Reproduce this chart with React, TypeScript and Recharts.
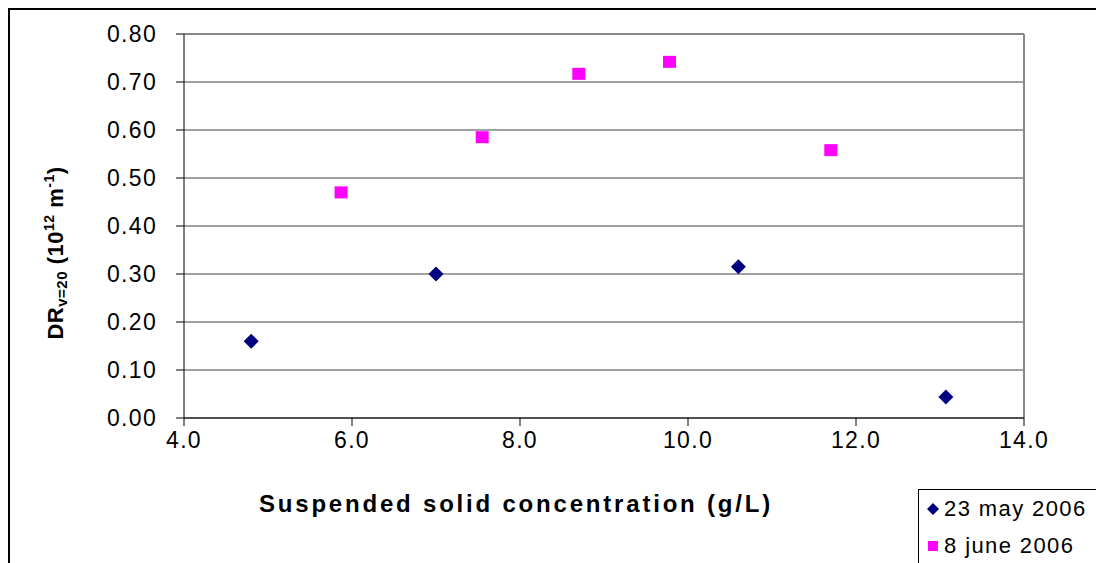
import React from "react";
import {
  ScatterChart,
  Scatter,
  XAxis,
  YAxis,
  CartesianGrid,
  ReferenceLine,
  Legend,
} from "recharts";

// suspended solid concentration (g/L) vs DR
const may23X = [4.8, 7.0, 10.6, 13.07];
const may23Y = [0.16, 0.30, 0.315, 0.044];
const june8X = [5.87, 7.55, 8.7, 9.78, 11.7];
const june8Y = [0.47, 0.585, 0.717, 0.742, 0.558];

const xTicks = [4, 6, 8, 10, 12, 14];
const yTicks = [0, 0.1, 0.2, 0.3, 0.4, 0.5, 0.6, 0.7, 0.8];

const seriesNames = ["23 may 2006", "8 june 2006"];

const may23 = may23X.map((x, i) => ({ x, y: may23Y[i] }));
const june8 = june8X.map((x, i) => ({ x, y: june8Y[i] }));

const FONT = "Arial, 'Liberation Sans', sans-serif";
const NAVY = "#000080";
const PINK = "#FF00FF";

const Diamond = (props: any) => {
  const { cx, cy } = props;
  const r = 7.5;
  return (
    <polygon
      points={`${cx},${cy - r} ${cx + r},${cy} ${cx},${cy + r} ${cx - r},${cy}`}
      fill={NAVY}
    />
  );
};

const Square = (props: any) => {
  const { cx, cy } = props;
  return <rect x={cx - 6.5} y={cy - 6} width={13} height={12} fill={PINK} />;
};

const YTitle = (props: any) => {
  const vb = props.viewBox;
  const cx = vb.x - 29;
  const cy = vb.y + vb.height / 2 + 27;
  return (
    <text
      x={cx}
      y={cy + 8}
      transform={`rotate(-90, ${cx}, ${cy})`}
      textAnchor="middle"
      fontFamily={FONT}
      fontWeight="bold"
      fontSize={22}
      letterSpacing={0.5}
      fill="#000"
    >
      <tspan>DR</tspan>
      <tspan fontSize={15} dy={4}>v=20</tspan>
      <tspan dy={-4}> (10</tspan>
      <tspan fontSize={14} dy={-9}>12</tspan>
      <tspan dy={9}> m</tspan>
      <tspan fontSize={14} dy={-9}>-1</tspan>
      <tspan dy={9}>)</tspan>
    </text>
  );
};

const XTitle = (props: any) => {
  const vb = props.viewBox;
  const cx = vb.x + vb.width / 2 - 88;
  return (
    <text
      x={cx}
      y={vb.y + 85}
      textAnchor="middle"
      dominantBaseline="central"
      fontFamily={FONT}
      fontWeight="bold"
      fontSize={24}
      letterSpacing={2.8}
      fill="#000"
    >
      Suspended solid concentration (g/L)
    </text>
  );
};

const renderLegend = () => (
  <div
    style={{
      border: "1px solid #000",
      width: 200,
      height: 100,
      boxSizing: "border-box",
      fontFamily: FONT,
      fontSize: 22,
      letterSpacing: 1.4,
      background: "#fff",
    }}
  >
    {seriesNames.map((name, i) => (
      <div
        key={name}
        style={{ display: "flex", alignItems: "center", height: 37 }}
      >
        <svg width={24} height={20} style={{ flex: "none" }}>
          {i === 0 ? (
            <polygon points="14,4 20,10 14,16 8,10" fill={NAVY} />
          ) : (
            <rect x={9} y={5} width={10} height={10} fill={PINK} />
          )}
        </svg>
        <span style={{ marginLeft: 1 }}>{name}</span>
      </div>
    ))}
  </div>
);

export default function App() {
  return (
    <div
      style={{
        position: "absolute",
        left: 8,
        top: 8,
        width: 1088,
        height: 555,
        borderTop: "2px solid #000",
        borderLeft: "2px solid #000",
        boxSizing: "border-box",
        overflow: "hidden",
        background: "#fff",
      }}
    >
      <ScatterChart
        width={1086}
        height={553}
        margin={{ top: 24, right: 72, left: 74, bottom: 105 }}
      >
        <CartesianGrid vertical={false} stroke="#444" strokeWidth={1} />
        <XAxis
          type="number"
          dataKey="x"
          domain={[4, 14]}
          ticks={xTicks}
          tickFormatter={(v: number) => v.toFixed(1)}
          height={40}
          stroke="#000"
          tickSize={8}
          tickMargin={6}
          tick={{ fontFamily: FONT, fontSize: 23, fill: "#000", letterSpacing: 1.3 }}
          label={<XTitle />}
          allowDataOverflow
        />
        <YAxis
          type="number"
          dataKey="y"
          domain={[0, 0.8]}
          ticks={yTicks}
          tickFormatter={(v: number) => v.toFixed(2)}
          width={100}
          stroke="#000"
          tickSize={8}
          tickMargin={19}
          tick={{ fontFamily: FONT, fontSize: 23, fill: "#000", letterSpacing: 1.3 }}
          label={<YTitle />}
          allowDataOverflow
        />
        <ReferenceLine y={0.8} stroke="#888" strokeWidth={2} />
        <ReferenceLine x={14} stroke="#888" strokeWidth={2} />
        <Scatter
          name={seriesNames[0]}
          data={may23}
          shape={<Diamond />}
          isAnimationActive={false}
        />
        <Scatter
          name={seriesNames[1]}
          data={june8}
          shape={<Square />}
          isAnimationActive={false}
        />
        <Legend
          layout="vertical"
          align="center"
          verticalAlign="middle"
          content={renderLegend}
          wrapperStyle={{ position: "absolute", left: 908, top: 479, width: 200, height: 100 }}
        />
      </ScatterChart>
    </div>
  );
}
